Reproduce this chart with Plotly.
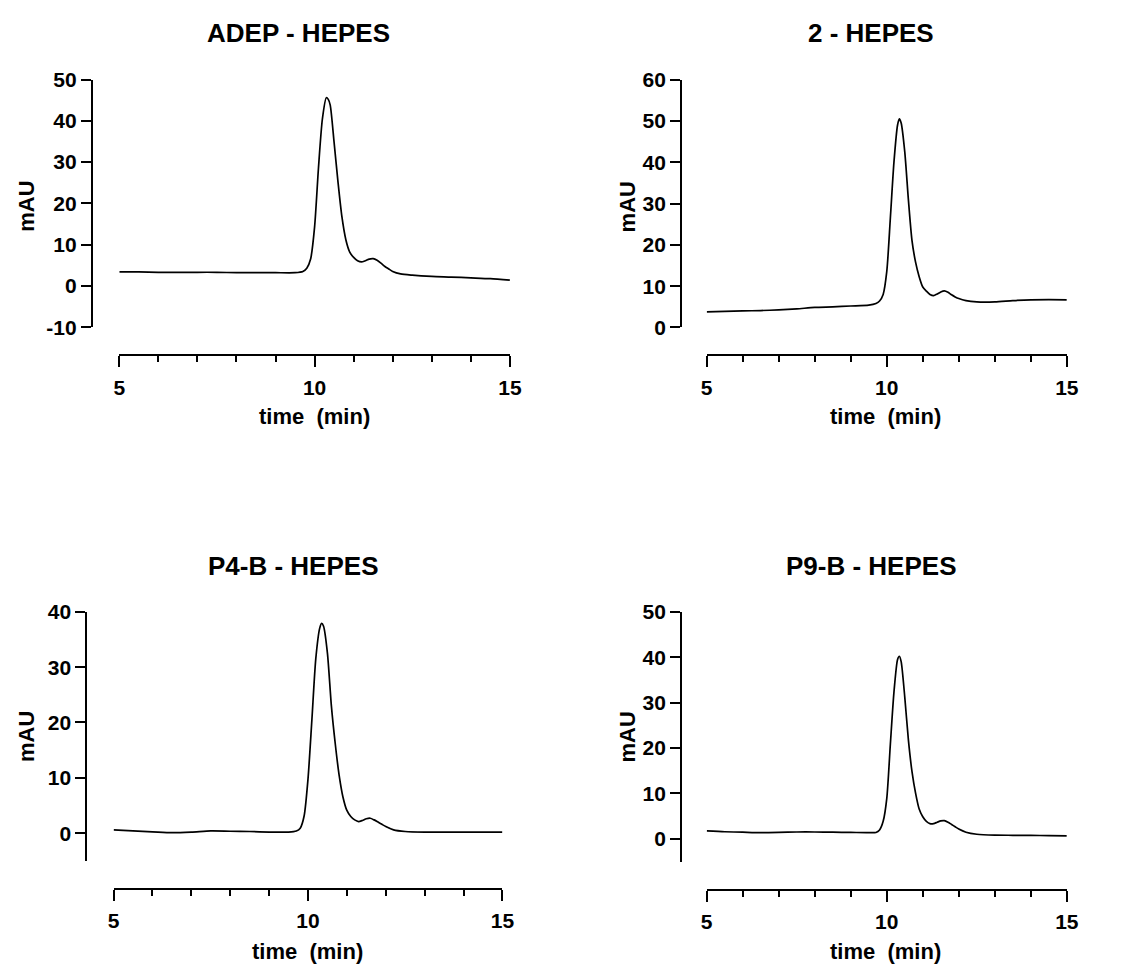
import plotly.graph_objects as go

# The page body keeps its default 8 px margin, so the figure is drawn 8 px
# smaller than the 1137x978 window and all positions are offset by 8 px.
PAGE_W, PAGE_H = 1137, 978
OFF = 8
W, H = PAGE_W - 2 * OFF, PAGE_H - 2 * OFF

# Retention time grid (min) shared by the four chromatograms
time_min = [5.0, 5.5, 6.0, 6.5, 7.0, 7.5, 8.0, 8.5, 9.0, 9.5,
            9.7, 9.8, 9.9, 10.0, 10.1, 10.2, 10.3, 10.35, 10.4, 10.5,
            10.6, 10.7, 10.8, 10.9, 11.0, 11.1, 11.2, 11.3, 11.4, 11.5,
            11.6, 11.7, 11.8, 11.9, 12.0, 12.2, 12.5, 13.0, 13.5, 14.0,
            14.5, 15.0]

# Absorbance (mAU)
adep_mau = [3.4, 3.4, 3.3, 3.3, 3.3, 3.3, 3.2, 3.2, 3.2, 3.2,
            3.5, 4.3, 6.6, 14.3, 28.7, 40.5, 45.6, 45.2, 43.8, 34.7,
            25.1, 16.7, 11.2, 8.2, 6.9, 6.1, 5.8, 6.1, 6.5, 6.6,
            6.2, 5.5, 4.7, 4.1, 3.5, 2.9, 2.6, 2.3, 2.15, 1.95,
            1.75, 1.4]
cmpd2_mau = [3.75, 3.9, 4.0, 4.1, 4.25, 4.5, 4.85, 5.0, 5.2, 5.4,
             5.8, 6.4, 8.0, 13.5, 26.5, 40.0, 49.0, 50.5, 49.5, 42.5,
             31.0, 21.1, 15.8, 12.3, 9.8, 8.8, 8.0, 7.7, 8.1, 8.6,
             8.85, 8.5, 7.9, 7.4, 7.0, 6.5, 6.2, 6.2, 6.5, 6.7,
             6.75, 6.7]
p4b_mau = [0.6, 0.4, 0.25, 0.1, 0.2, 0.4, 0.35, 0.3, 0.2, 0.2,
           0.4, 0.9, 3.1, 9.8, 20.5, 31.5, 37.0, 37.9, 37.4, 32.5,
           23.1, 16.2, 10.5, 6.5, 4.1, 3.0, 2.4, 2.1, 2.3, 2.6,
           2.7, 2.4, 2.0, 1.6, 1.2, 0.6, 0.3, 0.18, 0.18, 0.2,
           0.2, 0.18]
p9b_mau = [1.7, 1.5, 1.4, 1.3, 1.35, 1.45, 1.45, 1.4, 1.35, 1.3,
           1.35, 1.9, 3.8, 8.8, 20.8, 32.3, 39.5, 40.2, 39.0, 31.2,
           21.8, 14.8, 10.0, 6.5, 4.8, 3.8, 3.3, 3.3, 3.6, 3.9,
           3.95, 3.6, 3.1, 2.6, 2.1, 1.4, 0.95, 0.75, 0.72, 0.7,
           0.65, 0.57]

titles = ["ADEP - HEPES", "2 - HEPES", "P4-B - HEPES", "P9-B - HEPES"]
series = [adep_mau, cmpd2_mau, p4b_mau, p9b_mau]
y_ranges = [[-10, 50], [0, 60], [-5.1, 40], [-5.25, 50]]
y_ticks = [[-10, 0, 10, 20, 30, 40, 50], [0, 10, 20, 30, 40, 50, 60],
           [0, 10, 20, 30, 40], [0, 10, 20, 30, 40, 50]]
x_ticks = [5, 10, 15]

# Panel geometry in window pixels (left, right of x axis; x-axis row;
# y-axis column; top/bottom of y axis; title / axis-label centres)
geom = [
    dict(x0=115, x1=512, xrow=351.5, ycol=87.3, ytop=69, ybot=322.7,
         title=(297, 21.7), xlab=(313, 414), ylab=(20.5, 199)),
    dict(x0=712, x1=1078, xrow=351.5, ycol=686, ytop=69, ybot=323,
         title=(879, 21.7), xlab=(894, 414), ylab=(631, 199)),
    dict(x0=109.2, x1=504.4, xrow=898.3, ycol=81.6, ytop=614.3, ybot=870,
         title=(292, 567.7), xlab=(306.5, 962), ylab=(20.7, 742)),
    dict(x0=712, x1=1078, xrow=899, ycol=686, ytop=614.3, ybot=871,
         title=(879, 567.7), xlab=(894, 962), ylab=(631, 742)),
]

FONT = "Liberation Sans, Arial, sans-serif"


def px(x):
    return (x - OFF) / W


def py(y):
    return 1 - (y - OFF) / H


fig = go.Figure()
annotations = []
for i, (name, vals, yr, yt, g) in enumerate(
        zip(titles, series, y_ranges, y_ticks, geom), start=1):
    fig.add_trace(go.Scatter(
        x=time_min, y=vals, mode="lines",
        line=dict(color="black", width=1.7, shape="spline", smoothing=0.7),
        xaxis=f"x{i}", yaxis=f"y{i}", showlegend=False,
        hovertemplate="%{x:.2f} min<br>%{y:.1f} mAU<extra></extra>",
    ))
    axis_common = dict(
        showline=True, linecolor="black", linewidth=2.2,
        ticks="outside", tickcolor="black", tickwidth=2.2,
        showgrid=False, zeroline=False,
        tickfont=dict(family=FONT, size=21, color="black", weight="bold"),
    )
    fig.update_layout({
        f"xaxis{i}": dict(
            domain=[px(g["x0"]), px(g["x1"])], anchor="free",
            position=py(g["xrow"]), range=[5, 15],
            tickmode="array", tickvals=x_ticks,
            ticktext=[str(v) for v in x_ticks], ticklen=11,
            ticklabelstandoff=2,
            minor=dict(ticks="outside", dtick=1, tick0=5, ticklen=6,
                       tickwidth=2.2, tickcolor="black", showgrid=False),
            **axis_common,
        ),
        f"yaxis{i}": dict(
            domain=[py(g["ybot"]), py(g["ytop"])], anchor="free",
            position=px(g["ycol"]), range=yr,
            tickmode="array", tickvals=yt,
            ticktext=[str(v) for v in yt], ticklen=10,
            **axis_common,
        ),
    })
    annotations += [
        dict(text=name, x=px(g["title"][0]), y=py(g["title"][1]),
             font=dict(family=FONT, size=26, color="black", weight="bold")),
        dict(text="time  (min)", x=px(g["xlab"][0]), y=py(g["xlab"][1]),
             font=dict(family=FONT, size=22, color="black", weight="bold")),
        dict(text="mAU", x=px(g["ylab"][0]), y=py(g["ylab"][1]), textangle=-90,
             font=dict(family=FONT, size=22, color="black", weight="bold")),
    ]

for a in annotations:
    a.update(xref="paper", yref="paper", showarrow=False,
             xanchor="center", yanchor="middle")

fig.update_layout(
    width=W, height=H,
    margin=dict(l=0, r=0, t=0, b=0),
    paper_bgcolor="white", plot_bgcolor="white",
    annotations=annotations,
)

fig.write_html("out.html")
